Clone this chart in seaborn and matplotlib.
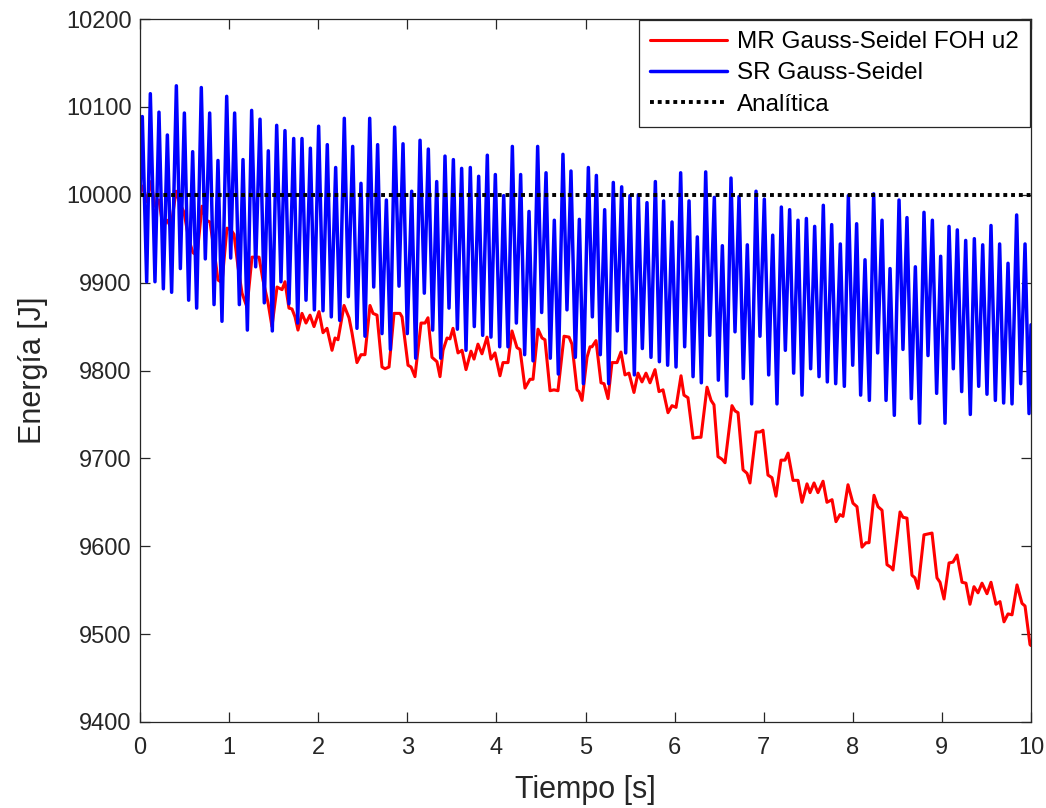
import numpy as np
import pandas as pd
import matplotlib
matplotlib.use("Agg")
import matplotlib.pyplot as plt
import seaborn as sns

# ---------------- data ----------------
sr_t = [0.000, 0.026, 0.075, 0.116, 0.168, 0.213, 0.262, 0.307, 0.355, 0.408, 0.453,
        0.498, 0.546, 0.591, 0.636, 0.688, 0.733, 0.782, 0.831, 0.875, 0.920,
        0.973, 1.018, 1.062, 1.115, 1.156, 1.205, 1.253, 1.298, 1.347, 1.395,
        1.440, 1.485, 1.534, 1.582, 1.627, 1.672,
        1.725, 1.770, 1.818, 1.863, 1.912, 1.957, 2.005, 2.054, 2.102, 2.147,
        2.196, 2.241, 2.293, 2.338, 2.387, 2.435, 2.480, 2.525, 2.578, 2.623,
        2.667, 2.716, 2.765, 2.810, 2.858, 2.907, 2.952, 3.000, 3.049, 3.094,
        3.143, 3.191, 3.236, 3.285, 3.330,
        3.375, 3.423, 3.468, 3.517, 3.562, 3.610, 3.659, 3.707, 3.752, 3.801,
        3.846, 3.898, 3.939, 3.988, 4.037, 4.082, 4.130, 4.179, 4.224, 4.272,
        4.317, 4.366, 4.411, 4.463, 4.508, 4.557, 4.605, 4.650, 4.695, 4.747,
        4.792, 4.837, 4.886, 4.931, 4.976, 5.032,
        5.077, 5.122, 5.166, 5.215, 5.260, 5.312, 5.357, 5.406, 5.451, 5.499,
        5.548, 5.593, 5.638, 5.690, 5.735, 5.784, 5.829, 5.877, 5.922, 5.971,
        6.016, 6.068, 6.113, 6.162, 6.207, 6.255, 6.300, 6.349, 6.394, 6.446,
        6.491, 6.536, 6.584, 6.633, 6.678, 6.723,
        6.771, 6.816, 6.865, 6.914, 6.958, 7.007, 7.056, 7.101, 7.149, 7.198,
        7.243, 7.291, 7.336, 7.385, 7.430, 7.479, 7.527, 7.572, 7.621, 7.669,
        7.714, 7.763, 7.808, 7.860, 7.905, 7.950, 7.999, 8.043, 8.088, 8.137,
        8.186, 8.234, 8.279, 8.328, 8.373,
        8.418, 8.466, 8.519, 8.563, 8.608, 8.657, 8.702, 8.750, 8.799, 8.844,
        8.893, 8.941, 8.986, 9.035, 9.080, 9.128, 9.173, 9.222, 9.267, 9.319,
        9.364, 9.413, 9.458, 9.506, 9.551, 9.600, 9.648, 9.693, 9.742, 9.787,
        9.839, 9.884, 9.933, 9.978, 10.000]
sr_e = [10000, 10089, 9901, 10115, 9901, 10094, 9893, 10068, 9889, 10124, 9916,
        10093, 9880, 10049, 9871, 10122, 9927, 10093, 9875, 10039, 9856,
        10112, 9928, 10093, 9875, 10040, 9846, 10096, 9918, 10086, 9877,
        10050, 9845, 10079, 9901, 10073, 9876,
        10064, 9854, 10064, 9880, 10053, 9869, 10078, 9868, 10057, 9861,
        10031, 9857, 10087, 9884, 10055, 9848, 10013, 9839, 10087, 9895,
        10057, 9842, 9994, 9824, 10077, 9896, 10058, 9842, 10004, 9814,
        10062, 9888, 10052, 9846, 10015,
        9814, 10044, 9871, 10040, 9847, 10030, 9823, 10031, 9850, 10021,
        9840, 10045, 9838, 10023, 9827, 9999, 9827, 10055, 9854, 10023,
        9818, 9981, 9811, 10055, 9866, 10025, 9814, 9971, 9796, 10046,
        9869, 10027, 9815, 9972, 9785, 10031,
        9861, 10022, 9818, 9983, 9785, 10014, 9845, 10009, 9820, 9999,
        9795, 10000, 9825, 9991, 9815, 10015, 9810, 9993, 9806, 9969,
        9804, 10025, 9827, 9993, 9793, 9952, 9786, 10026, 9840, 9997,
        9789, 9942, 9771, 10019, 9844, 9998,
        9791, 9943, 9762, 10004, 9839, 9995, 9795, 9954, 9762, 9986,
        9823, 9983, 9797, 9971, 9772, 9973, 9802, 9964, 9793, 9988,
        9787, 9966, 9785, 9944, 9782, 9999, 9806, 9967, 9772, 9926,
        9766, 10001, 9820, 9971, 9766,
        9916, 9749, 9994, 9824, 9974, 9768, 9918, 9740, 9980, 9817,
        9971, 9774, 9930, 9740, 9964, 9802, 9960, 9776, 9948, 9750,
        9950, 9782, 9943, 9773, 9965, 9766, 9944, 9763, 9922, 9762,
        9977, 9785, 9944, 9751, 9852]

mr_t = [0.000, 0.034, 0.079, 0.123, 0.168, 0.213, 0.258, 0.303, 0.348, 0.404, 0.449,
        0.494, 0.550, 0.595, 0.640, 0.696, 0.741, 0.786, 0.842, 0.875, 0.920,
        0.976, 1.021, 1.055, 1.100, 1.145, 1.201, 1.257, 1.336, 1.380, 1.437,
        1.481, 1.538, 1.594, 1.627, 1.672, 1.706, 1.740, 1.773, 1.818, 1.863,
        1.908, 1.953, 2.009, 2.054, 2.099, 2.155, 2.189, 2.222, 2.290, 2.346,
        2.379, 2.435, 2.480, 2.525, 2.581, 2.615, 2.660, 2.716, 2.750, 2.795,
        2.851, 2.918, 2.941, 3.008, 3.042, 3.086, 3.154, 3.199, 3.232, 3.277,
        3.333, 3.367, 3.401, 3.446, 3.479, 3.513, 3.569, 3.614, 3.659, 3.715,
        3.749, 3.793, 3.838, 3.895, 3.939, 3.984, 4.040, 4.074, 4.130, 4.175,
        4.231, 4.265, 4.321, 4.377, 4.411, 4.467, 4.512, 4.545, 4.602, 4.646,
        4.691, 4.759, 4.815, 4.848, 4.905, 4.927, 4.961, 5.017, 5.051, 5.073,
        5.118, 5.140, 5.174, 5.208, 5.253, 5.297, 5.354, 5.398, 5.443, 5.488,
        5.544, 5.589, 5.634, 5.679, 5.724, 5.780, 5.825, 5.870, 5.926, 5.971,
        6.016, 6.072, 6.105, 6.150, 6.207, 6.263, 6.296, 6.364, 6.409, 6.442,
        6.487, 6.532, 6.566, 6.644, 6.678, 6.712, 6.768, 6.813, 6.846, 6.914,
        6.958, 6.992, 7.048, 7.093, 7.138, 7.194, 7.239, 7.273, 7.329, 7.385,
        7.430, 7.486, 7.520, 7.565, 7.609, 7.666, 7.710, 7.767, 7.811, 7.856,
        7.890, 7.946, 8.002, 8.047, 8.103, 8.148, 8.182, 8.238, 8.283, 8.328,
        8.384, 8.429, 8.451, 8.530, 8.563, 8.608, 8.664, 8.698, 8.732, 8.799,
        8.844, 8.889, 8.945, 8.979, 9.024, 9.080, 9.125, 9.170, 9.226, 9.270,
        9.315, 9.360, 9.405, 9.450, 9.506, 9.551, 9.607, 9.652, 9.697, 9.742,
        9.787, 9.843, 9.899, 9.933, 9.989, 10.000]
mr_e = [10000, 10010, 9992, 10015, 9987, 9994, 9963, 9971, 9963, 10004, 9990,
        9980, 9948, 9934, 9931, 9987, 9971, 9969, 9929, 9903, 9900,
        9962, 9960, 9955, 9918, 9888, 9872, 9929, 9929, 9903, 9877,
        9850, 9895, 9892, 9901, 9871, 9870, 9861, 9846, 9865, 9854,
        9863, 9850, 9867, 9843, 9848, 9823, 9837, 9835, 9874, 9860,
        9843, 9809, 9818, 9818, 9874, 9865, 9863, 9804, 9802, 9804,
        9865, 9865, 9861, 9806, 9804, 9793, 9854, 9854, 9860, 9815,
        9810, 9793, 9823, 9837, 9836, 9848, 9820, 9823, 9801, 9822,
        9813, 9830, 9819, 9838, 9813, 9820, 9794, 9809, 9809, 9845,
        9826, 9824, 9780, 9790, 9790, 9847, 9837, 9835, 9777, 9778,
        9777, 9839, 9838, 9830, 9778, 9776, 9766, 9815, 9827, 9827,
        9834, 9815, 9786, 9785, 9768, 9809, 9809, 9821, 9795, 9797,
        9775, 9797, 9787, 9797, 9786, 9801, 9776, 9778, 9752, 9760,
        9758, 9794, 9772, 9769, 9723, 9724, 9724, 9781, 9766, 9761,
        9702, 9699, 9695, 9760, 9754, 9752, 9687, 9683, 9672, 9730,
        9730, 9732, 9681, 9678, 9657, 9698, 9698, 9706, 9675, 9675,
        9650, 9671, 9661, 9672, 9661, 9674, 9650, 9653, 9628, 9636,
        9634, 9670, 9649, 9645, 9599, 9604, 9604, 9658, 9645, 9641,
        9579, 9576, 9573, 9639, 9633, 9632, 9567, 9564, 9552, 9613,
        9614, 9615, 9564, 9559, 9540, 9581, 9582, 9590, 9559, 9558,
        9534, 9554, 9547, 9558, 9546, 9559, 9534, 9537, 9514, 9523,
        9522, 9556, 9535, 9532, 9488, 9487]

an_t = [0.0, 10.0]
an_e = [10000, 10000]

labels = ["MR Gauss-Seidel FOH u2", "SR Gauss-Seidel", "Analítica"]
x_ticks = list(range(0, 11))
y_ticks = list(range(9400, 10201, 100))

# ---------------- plotting ----------------
sns.set_style("ticks")
plt.rcParams["font.family"] = ["Liberation Sans", "DejaVu Sans"]

fig = plt.figure(figsize=(10.46, 8.08), dpi=100)
ax = fig.add_axes([140 / 1046, 1 - 722 / 808, (1031 - 140) / 1046, (722 - 19) / 808])

df_mr = pd.DataFrame({"t": mr_t, "E": mr_e})
df_sr = pd.DataFrame({"t": sr_t, "E": sr_e})
df_an = pd.DataFrame({"t": an_t, "E": an_e})

sns.lineplot(data=df_mr, x="t", y="E", ax=ax, color="#ff0000", linewidth=2.2,
             label=labels[0], estimator=None, sort=False)
sns.lineplot(data=df_sr, x="t", y="E", ax=ax, color="#0000ff", linewidth=2.5,
             label=labels[1], estimator=None, sort=False)
sns.lineplot(data=df_an, x="t", y="E", ax=ax, color="black", linewidth=2.8,
             linestyle=(0, (1, 1)), label=labels[2], estimator=None, sort=False)

ax.set_xlim(0, 10)
ax.set_ylim(9400, 10200)
ax.set_xticks(x_ticks)
ax.set_yticks(y_ticks)
ax.set_xlabel("Tiempo [s]", fontsize=22, color="#262626", labelpad=11)
ax.set_ylabel("Energía [J]", fontsize=22, color="#262626", labelpad=13)
for s in ax.spines.values():
    s.set_visible(True)
    s.set_color("#262626")
    s.set_linewidth(0.9)
ax.tick_params(direction="in", length=7, width=0.9, colors="#262626",
               labelsize=17, top=True, right=True, pad=6)
ax.tick_params(axis="x", pad=11, labeltop=False)
ax.tick_params(axis="y", labelright=False)

leg = ax.legend(loc="upper right", fontsize=17.5, frameon=True, fancybox=False,
                edgecolor="#262626", framealpha=1, borderaxespad=0.05,
                handlelength=3.2, handletextpad=0.4, labelspacing=0.38,
                borderpad=0.45)
leg.get_frame().set_linewidth(0.9)
for txt in leg.get_texts():
    txt.set_color("black")

fig.savefig("out.png", dpi=100)
